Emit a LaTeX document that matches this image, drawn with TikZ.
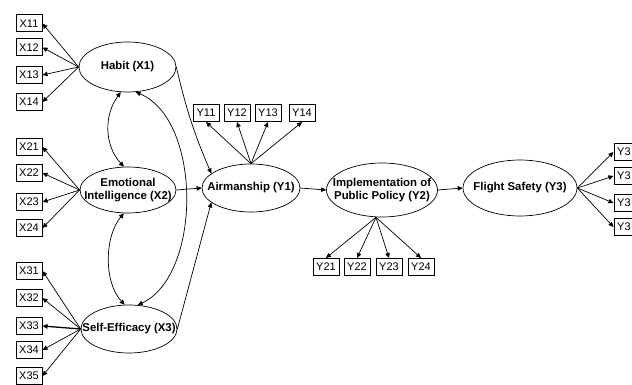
\documentclass[tikz,border=0pt]{standalone}
\usepackage{fontspec}
\setmainfont{Liberation Sans}
\usetikzlibrary{shapes.geometric,arrows.meta}
\begin{document}
\begin{tikzpicture}[x=1pt,y=-1pt,
  lat/.style={ellipse, draw, line width=0.7pt, inner sep=0pt},
  lattext/.style={align=center, inner sep=0pt, font=\bfseries\fontsize{11.4}{13}\selectfont},
  ind/.style={draw, line width=1pt, minimum width=26pt, minimum height=17pt,
    inner sep=0pt, font=\fontsize{11}{12}\selectfont},
  arr/.style={-{Triangle[length=5pt,width=4.5pt]}, line width=0.7pt},
  cov/.style={{Triangle[length=5pt,width=4.5pt]}-{Triangle[length=5pt,width=4.5pt]}, line width=0.7pt}]
\useasboundingbox (0,0) rectangle (632,385);
\clip (0,0) rectangle (632,385);
% latent variables
\node[lat, minimum width=97pt, minimum height=50pt, label={[lattext]center:Habit (X1)}] (H) at (127.5,67) {};
\node[lat, minimum width=96pt, minimum height=46pt, label={[lattext]center:Emotional\\Intelligence (X2)}] (E) at (128,190) {};
\node[lat, minimum width=96pt, minimum height=48pt, label={[lattext]center:Self-Efficacy (X3)}] (S) at (129,329) {};
\node[lat, minimum width=98pt, minimum height=48pt, label={[lattext]center:Airmanship (Y1)}] (A) at (251,188) {};
\node[lat, minimum width=111pt, minimum height=54pt, label={[lattext]center:Implementation of\\Public Policy (Y2)}] (P) at (382,190) {};
\node[lat, minimum width=114pt, minimum height=56pt, label={[lattext]center:Flight Safety (Y3)}] (F) at (520,188) {};
% indicators X1
\node[ind] (x11) at (29,23.5) {X11};
\node[ind] (x12) at (29,47.5) {X12};
\node[ind] (x13) at (29,75) {X13};
\node[ind] (x14) at (29,102) {X14};
% indicators X2
\node[ind] (x21) at (29,147) {X21};
\node[ind] (x22) at (29,173) {X22};
\node[ind] (x23) at (29,202) {X23};
\node[ind] (x24) at (29,228) {X24};
% indicators X3
\node[ind] (x31) at (29,271) {X31};
\node[ind] (x32) at (29,298) {X32};
\node[ind] (x33) at (29,326) {X33};
\node[ind] (x34) at (29,350) {X34};
\node[ind] (x35) at (29,376) {X35};
% indicators Y1
\node[ind] (y11) at (206,113) {Y11};
\node[ind] (y12) at (237,113) {Y12};
\node[ind] (y13) at (268,113) {Y13};
\node[ind] (y14) at (302,113) {Y14};
% indicators Y2
\node[ind] (y21) at (326,267) {Y21};
\node[ind] (y22) at (357,267) {Y22};
\node[ind] (y23) at (389,267) {Y23};
\node[ind] (y24) at (421,267) {Y24};
% indicators Y3 (cut by the edge)
\node[ind] (y31) at (627,152) {Y3\phantom{1}};
\node[ind] (y32) at (627,176) {Y3\phantom{1}};
\node[ind] (y33) at (627,203) {Y3\phantom{1}};
\node[ind] (y34) at (627,227) {Y3\phantom{1}};
% loadings
\foreach \b in {x11,x12,x13,x14} \draw[arr] (H.west) -- (\b.east);
\foreach \b in {x21,x22,x23,x24} \draw[arr] (E.west) -- (\b.east);
\foreach \b in {x31,x32,x34,x35} \draw[arr] (S.west) -- (\b.east);
\draw[arr, line width=1.3pt] (S.west) -- (x33.east);
\foreach \b in {y11,y12,y13,y14} \draw[arr] (A.north) -- (\b.south);
\foreach \b in {y21,y22,y23,y24} \draw[arr] ([xshift=-6pt]P.south) -- (\b.north);
\foreach \b in {y31,y32,y33,y34} \draw[arr] (F.east) -- (\b.west);
% structural paths
\draw[arr] (H.east) to[bend right=5] (A.160);
\draw[arr] (E.east) -- (A.west);
\draw[arr] (S.east) -- (A.200);
\draw[arr] (A.east) -- (P.west);
\draw[arr] (P.east) -- (F.west);
% covariances
\draw[cov] (H.255) .. controls (104,115) and (104,145) .. (E.100);
\draw[cov] (E.260) .. controls (104,237) and (104,283) .. (S.100);
\draw[cov] (H.288) .. controls (202,120) and (202,275) .. (S.70);
\end{tikzpicture}
\end{document}
